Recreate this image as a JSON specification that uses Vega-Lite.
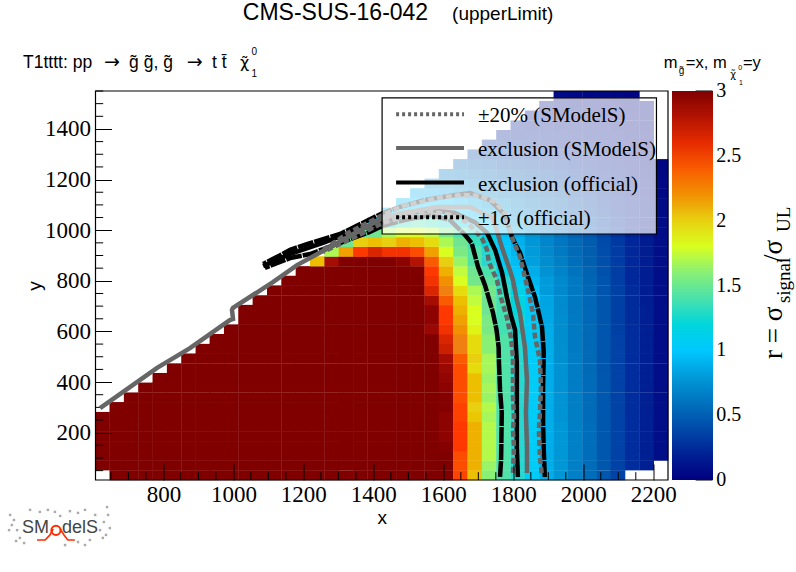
{"$schema":"https://vega.github.io/schema/vega-lite/v6.json","width":572.5,"height":389,"autosize":{"type":"none"},"padding":{"left":95.5,"top":91,"right":128,"bottom":92},"background":"white","config":{"view":{"stroke":null}},
"layer":[
{"data":{"values":[
{"x":626,"y":71,"r":3},{"x":626,"y":109,"r":3},{"x":626,"y":147,"r":3},{"x":626,"y":186,"r":3},{"x":626,"y":224,"r":3},{"x":626,"y":262,"r":3},
{"x":667,"y":32,"r":3},{"x":667,"y":71,"r":3},{"x":667,"y":109,"r":3},{"x":667,"y":147,"r":3},{"x":667,"y":186,"r":3},{"x":667,"y":224,"r":3},{"x":667,"y":262,"r":3},{"x":667,"y":301,"r":3},
{"x":708,"y":32,"r":3},{"x":708,"y":71,"r":3},{"x":708,"y":109,"r":3},{"x":708,"y":147,"r":3},{"x":708,"y":186,"r":3},{"x":708,"y":224,"r":3},{"x":708,"y":262,"r":3},{"x":708,"y":301,"r":3},{"x":708,"y":339,"r":3},
{"x":749,"y":32,"r":3},{"x":749,"y":71,"r":3},{"x":749,"y":109,"r":3},{"x":749,"y":147,"r":3},{"x":749,"y":186,"r":3},{"x":749,"y":224,"r":3},{"x":749,"y":262,"r":3},{"x":749,"y":301,"r":3},{"x":749,"y":339,"r":3},{"x":749,"y":378,"r":3},
{"x":790,"y":32,"r":3},{"x":790,"y":71,"r":3},{"x":790,"y":109,"r":3},{"x":790,"y":147,"r":3},{"x":790,"y":186,"r":3},{"x":790,"y":224,"r":3},{"x":790,"y":262,"r":3},{"x":790,"y":301,"r":3},{"x":790,"y":339,"r":3},{"x":790,"y":378,"r":3},{"x":790,"y":416,"r":3},
{"x":831,"y":32,"r":3},{"x":831,"y":71,"r":3},{"x":831,"y":109,"r":3},{"x":831,"y":147,"r":3},{"x":831,"y":186,"r":3},{"x":831,"y":224,"r":3},{"x":831,"y":262,"r":3},{"x":831,"y":301,"r":3},{"x":831,"y":339,"r":3},{"x":831,"y":378,"r":3},{"x":831,"y":416,"r":3},{"x":831,"y":454,"r":3},
{"x":872,"y":32,"r":3},{"x":872,"y":71,"r":3},{"x":872,"y":109,"r":3},{"x":872,"y":147,"r":3},{"x":872,"y":186,"r":3},{"x":872,"y":224,"r":3},{"x":872,"y":262,"r":3},{"x":872,"y":301,"r":3},{"x":872,"y":339,"r":3},{"x":872,"y":378,"r":3},{"x":872,"y":416,"r":3},{"x":872,"y":454,"r":3},{"x":872,"y":493,"r":3},
{"x":913,"y":32,"r":3},{"x":913,"y":71,"r":3},{"x":913,"y":109,"r":3},{"x":913,"y":147,"r":3},{"x":913,"y":186,"r":3},{"x":913,"y":224,"r":3},{"x":913,"y":262,"r":3},{"x":913,"y":301,"r":3},{"x":913,"y":339,"r":3},{"x":913,"y":378,"r":3},{"x":913,"y":416,"r":3},{"x":913,"y":454,"r":3},{"x":913,"y":493,"r":3},{"x":913,"y":531,"r":3},
{"x":953,"y":32,"r":3},{"x":953,"y":71,"r":3},{"x":953,"y":109,"r":3},{"x":953,"y":147,"r":3},{"x":953,"y":186,"r":3},{"x":953,"y":224,"r":3},{"x":953,"y":262,"r":3},{"x":953,"y":301,"r":3},{"x":953,"y":339,"r":3},{"x":953,"y":378,"r":3},{"x":953,"y":416,"r":3},{"x":953,"y":454,"r":3},{"x":953,"y":493,"r":3},{"x":953,"y":531,"r":3},{"x":953,"y":570,"r":3},
{"x":994,"y":32,"r":3},{"x":994,"y":71,"r":3},{"x":994,"y":109,"r":3},{"x":994,"y":147,"r":3},{"x":994,"y":186,"r":3},{"x":994,"y":224,"r":3},{"x":994,"y":262,"r":3},{"x":994,"y":301,"r":3},{"x":994,"y":339,"r":3},{"x":994,"y":378,"r":3},{"x":994,"y":416,"r":3},{"x":994,"y":454,"r":3},{"x":994,"y":493,"r":3},{"x":994,"y":531,"r":3},{"x":994,"y":570,"r":3},{"x":994,"y":608,"r":3},
{"x":1035,"y":32,"r":3},{"x":1035,"y":71,"r":3},{"x":1035,"y":109,"r":3},{"x":1035,"y":147,"r":3},{"x":1035,"y":186,"r":3},{"x":1035,"y":224,"r":3},{"x":1035,"y":262,"r":3},{"x":1035,"y":301,"r":3},{"x":1035,"y":339,"r":3},{"x":1035,"y":378,"r":3},{"x":1035,"y":416,"r":3},{"x":1035,"y":454,"r":3},{"x":1035,"y":493,"r":3},{"x":1035,"y":531,"r":3},{"x":1035,"y":570,"r":3},{"x":1035,"y":608,"r":3},{"x":1035,"y":646,"r":3},{"x":1035,"y":685,"r":3},
{"x":1076,"y":32,"r":3},{"x":1076,"y":71,"r":3},{"x":1076,"y":109,"r":3},{"x":1076,"y":147,"r":3},{"x":1076,"y":186,"r":3},{"x":1076,"y":224,"r":3},{"x":1076,"y":262,"r":3},{"x":1076,"y":301,"r":3},{"x":1076,"y":339,"r":3},{"x":1076,"y":378,"r":3},{"x":1076,"y":416,"r":3},{"x":1076,"y":454,"r":3},{"x":1076,"y":493,"r":3},{"x":1076,"y":531,"r":3},{"x":1076,"y":570,"r":3},{"x":1076,"y":608,"r":3},{"x":1076,"y":646,"r":3},{"x":1076,"y":685,"r":3},{"x":1076,"y":723,"r":3},
{"x":1117,"y":32,"r":3},{"x":1117,"y":71,"r":3},{"x":1117,"y":109,"r":3},{"x":1117,"y":147,"r":3},{"x":1117,"y":186,"r":3},{"x":1117,"y":224,"r":3},{"x":1117,"y":262,"r":3},{"x":1117,"y":301,"r":3},{"x":1117,"y":339,"r":3},{"x":1117,"y":378,"r":3},{"x":1117,"y":416,"r":3},{"x":1117,"y":454,"r":3},{"x":1117,"y":493,"r":3},{"x":1117,"y":531,"r":3},{"x":1117,"y":570,"r":3},{"x":1117,"y":608,"r":3},{"x":1117,"y":646,"r":3},{"x":1117,"y":685,"r":3},{"x":1117,"y":723,"r":3},{"x":1117,"y":762,"r":3},
{"x":1158,"y":32,"r":3},{"x":1158,"y":71,"r":3},{"x":1158,"y":109,"r":3},{"x":1158,"y":147,"r":3},{"x":1158,"y":186,"r":3},{"x":1158,"y":224,"r":3},{"x":1158,"y":262,"r":3},{"x":1158,"y":301,"r":3},{"x":1158,"y":339,"r":3},{"x":1158,"y":378,"r":3},{"x":1158,"y":416,"r":3},{"x":1158,"y":454,"r":3},{"x":1158,"y":493,"r":3},{"x":1158,"y":531,"r":3},{"x":1158,"y":570,"r":3},{"x":1158,"y":608,"r":3},{"x":1158,"y":646,"r":3},{"x":1158,"y":685,"r":3},{"x":1158,"y":723,"r":3},{"x":1158,"y":762,"r":3},{"x":1158,"y":800,"r":3},
{"x":1199,"y":32,"r":3},{"x":1199,"y":71,"r":3},{"x":1199,"y":109,"r":3},{"x":1199,"y":147,"r":3},{"x":1199,"y":186,"r":3},{"x":1199,"y":224,"r":3},{"x":1199,"y":262,"r":3},{"x":1199,"y":301,"r":3},{"x":1199,"y":339,"r":3},{"x":1199,"y":378,"r":3},{"x":1199,"y":416,"r":3},{"x":1199,"y":454,"r":3},{"x":1199,"y":493,"r":3},{"x":1199,"y":531,"r":3},{"x":1199,"y":570,"r":3},{"x":1199,"y":608,"r":3},{"x":1199,"y":646,"r":3},{"x":1199,"y":685,"r":3},{"x":1199,"y":723,"r":3},{"x":1199,"y":762,"r":3},{"x":1199,"y":800,"r":3},{"x":1199,"y":838,"r":3},
{"x":1240,"y":32,"r":3},{"x":1240,"y":71,"r":3},{"x":1240,"y":109,"r":3},{"x":1240,"y":147,"r":3},{"x":1240,"y":186,"r":3},{"x":1240,"y":224,"r":3},{"x":1240,"y":262,"r":3},{"x":1240,"y":301,"r":3},{"x":1240,"y":339,"r":3},{"x":1240,"y":378,"r":3},{"x":1240,"y":416,"r":3},{"x":1240,"y":454,"r":3},{"x":1240,"y":493,"r":3},{"x":1240,"y":531,"r":3},{"x":1240,"y":570,"r":3},{"x":1240,"y":608,"r":3},{"x":1240,"y":646,"r":3},{"x":1240,"y":685,"r":3},{"x":1240,"y":723,"r":3},{"x":1240,"y":762,"r":3},{"x":1240,"y":800,"r":3},{"x":1240,"y":838,"r":3},{"x":1240,"y":877,"r":2.05},
{"x":1281,"y":32,"r":3},{"x":1281,"y":71,"r":3},{"x":1281,"y":109,"r":3},{"x":1281,"y":147,"r":3},{"x":1281,"y":186,"r":3},{"x":1281,"y":224,"r":3},{"x":1281,"y":262,"r":3},{"x":1281,"y":301,"r":3},{"x":1281,"y":339,"r":3},{"x":1281,"y":378,"r":3},{"x":1281,"y":416,"r":3},{"x":1281,"y":454,"r":3},{"x":1281,"y":493,"r":3},{"x":1281,"y":531,"r":3},{"x":1281,"y":570,"r":3},{"x":1281,"y":608,"r":3},{"x":1281,"y":646,"r":3},{"x":1281,"y":685,"r":3},{"x":1281,"y":723,"r":3},{"x":1281,"y":762,"r":3},{"x":1281,"y":800,"r":3},{"x":1281,"y":838,"r":3},{"x":1281,"y":877,"r":2.85},{"x":1281,"y":915,"r":1.7},
{"x":1322,"y":32,"r":3},{"x":1322,"y":71,"r":3},{"x":1322,"y":109,"r":3},{"x":1322,"y":147,"r":3},{"x":1322,"y":186,"r":3},{"x":1322,"y":224,"r":3},{"x":1322,"y":262,"r":3},{"x":1322,"y":301,"r":3},{"x":1322,"y":339,"r":3},{"x":1322,"y":378,"r":3},{"x":1322,"y":416,"r":3},{"x":1322,"y":454,"r":3},{"x":1322,"y":493,"r":3},{"x":1322,"y":531,"r":3},{"x":1322,"y":570,"r":3},{"x":1322,"y":608,"r":3},{"x":1322,"y":646,"r":3},{"x":1322,"y":685,"r":3},{"x":1322,"y":723,"r":3},{"x":1322,"y":762,"r":3},{"x":1322,"y":800,"r":3},{"x":1322,"y":838,"r":3},{"x":1322,"y":877,"r":3},{"x":1322,"y":915,"r":2.15},{"x":1322,"y":954,"r":1.5},
{"x":1363,"y":32,"r":3},{"x":1363,"y":71,"r":3},{"x":1363,"y":109,"r":3},{"x":1363,"y":147,"r":3},{"x":1363,"y":186,"r":3},{"x":1363,"y":224,"r":3},{"x":1363,"y":262,"r":3},{"x":1363,"y":301,"r":3},{"x":1363,"y":339,"r":3},{"x":1363,"y":378,"r":3},{"x":1363,"y":416,"r":3},{"x":1363,"y":454,"r":3},{"x":1363,"y":493,"r":3},{"x":1363,"y":531,"r":3},{"x":1363,"y":570,"r":3},{"x":1363,"y":608,"r":3},{"x":1363,"y":646,"r":3},{"x":1363,"y":685,"r":3},{"x":1363,"y":723,"r":3},{"x":1363,"y":762,"r":3},{"x":1363,"y":800,"r":3},{"x":1363,"y":838,"r":3},{"x":1363,"y":877,"r":3},{"x":1363,"y":915,"r":2.5},{"x":1363,"y":954,"r":2.0},{"x":1363,"y":992,"r":1.45},
{"x":1404,"y":32,"r":3},{"x":1404,"y":71,"r":3},{"x":1404,"y":109,"r":3},{"x":1404,"y":147,"r":3},{"x":1404,"y":186,"r":3},{"x":1404,"y":224,"r":3},{"x":1404,"y":262,"r":3},{"x":1404,"y":301,"r":3},{"x":1404,"y":339,"r":3},{"x":1404,"y":378,"r":3},{"x":1404,"y":416,"r":3},{"x":1404,"y":454,"r":3},{"x":1404,"y":493,"r":3},{"x":1404,"y":531,"r":3},{"x":1404,"y":570,"r":3},{"x":1404,"y":608,"r":3},{"x":1404,"y":646,"r":3},{"x":1404,"y":685,"r":3},{"x":1404,"y":723,"r":3},{"x":1404,"y":762,"r":3},{"x":1404,"y":800,"r":3},{"x":1404,"y":838,"r":3},{"x":1404,"y":877,"r":3},{"x":1404,"y":915,"r":2.65},{"x":1404,"y":954,"r":2.05},{"x":1404,"y":992,"r":1.5},{"x":1404,"y":1030,"r":1.0},
{"x":1445,"y":32,"r":3},{"x":1445,"y":71,"r":3},{"x":1445,"y":109,"r":3},{"x":1445,"y":147,"r":3},{"x":1445,"y":186,"r":3},{"x":1445,"y":224,"r":3},{"x":1445,"y":262,"r":3},{"x":1445,"y":301,"r":3},{"x":1445,"y":339,"r":3},{"x":1445,"y":378,"r":3},{"x":1445,"y":416,"r":3},{"x":1445,"y":454,"r":3},{"x":1445,"y":493,"r":3},{"x":1445,"y":531,"r":3},{"x":1445,"y":570,"r":3},{"x":1445,"y":608,"r":3},{"x":1445,"y":646,"r":3},{"x":1445,"y":685,"r":3},{"x":1445,"y":723,"r":3},{"x":1445,"y":762,"r":3},{"x":1445,"y":800,"r":3},{"x":1445,"y":838,"r":3},{"x":1445,"y":877,"r":3},{"x":1445,"y":915,"r":2.55},{"x":1445,"y":954,"r":2.0},{"x":1445,"y":992,"r":1.7},{"x":1445,"y":1030,"r":1.2},{"x":1445,"y":1069,"r":1.0},
{"x":1486,"y":32,"r":3},{"x":1486,"y":71,"r":3},{"x":1486,"y":109,"r":3},{"x":1486,"y":147,"r":3},{"x":1486,"y":186,"r":3},{"x":1486,"y":224,"r":3},{"x":1486,"y":262,"r":3},{"x":1486,"y":301,"r":3},{"x":1486,"y":339,"r":3},{"x":1486,"y":378,"r":3},{"x":1486,"y":416,"r":3},{"x":1486,"y":454,"r":3},{"x":1486,"y":493,"r":3},{"x":1486,"y":531,"r":3},{"x":1486,"y":570,"r":3},{"x":1486,"y":608,"r":3},{"x":1486,"y":646,"r":3},{"x":1486,"y":685,"r":3},{"x":1486,"y":723,"r":3},{"x":1486,"y":762,"r":3},{"x":1486,"y":800,"r":3},{"x":1486,"y":838,"r":3},{"x":1486,"y":877,"r":2.95},{"x":1486,"y":915,"r":2.55},{"x":1486,"y":954,"r":2.1},{"x":1486,"y":992,"r":1.8},{"x":1486,"y":1030,"r":1.35},{"x":1486,"y":1069,"r":1.1},{"x":1486,"y":1107,"r":0.95},
{"x":1526,"y":32,"r":3},{"x":1526,"y":71,"r":3},{"x":1526,"y":109,"r":3},{"x":1526,"y":147,"r":3},{"x":1526,"y":186,"r":3},{"x":1526,"y":224,"r":3},{"x":1526,"y":262,"r":3},{"x":1526,"y":301,"r":3},{"x":1526,"y":339,"r":3},{"x":1526,"y":378,"r":3},{"x":1526,"y":416,"r":3},{"x":1526,"y":454,"r":3},{"x":1526,"y":493,"r":3},{"x":1526,"y":531,"r":3},{"x":1526,"y":570,"r":3},{"x":1526,"y":608,"r":3},{"x":1526,"y":646,"r":3},{"x":1526,"y":685,"r":3},{"x":1526,"y":723,"r":3},{"x":1526,"y":762,"r":3},{"x":1526,"y":800,"r":3},{"x":1526,"y":838,"r":3},{"x":1526,"y":877,"r":2.8},{"x":1526,"y":915,"r":2.45},{"x":1526,"y":954,"r":2.05},{"x":1526,"y":992,"r":1.82},{"x":1526,"y":1030,"r":1.4},{"x":1526,"y":1069,"r":1.15},{"x":1526,"y":1107,"r":1.0},{"x":1526,"y":1146,"r":0.88},
{"x":1567,"y":32,"r":3},{"x":1567,"y":71,"r":3},{"x":1567,"y":109,"r":3},{"x":1567,"y":147,"r":3},{"x":1567,"y":186,"r":3},{"x":1567,"y":224,"r":3},{"x":1567,"y":262,"r":3},{"x":1567,"y":301,"r":3},{"x":1567,"y":339,"r":3},{"x":1567,"y":378,"r":3},{"x":1567,"y":416,"r":3},{"x":1567,"y":454,"r":3},{"x":1567,"y":493,"r":3},{"x":1567,"y":531,"r":3},{"x":1567,"y":570,"r":3},{"x":1567,"y":608,"r":2.9},{"x":1567,"y":646,"r":2.95},{"x":1567,"y":685,"r":2.95},{"x":1567,"y":723,"r":2.85},{"x":1567,"y":762,"r":2.65},{"x":1567,"y":800,"r":2.55},{"x":1567,"y":838,"r":2.5},{"x":1567,"y":877,"r":2.4},{"x":1567,"y":915,"r":2.15},{"x":1567,"y":954,"r":1.95},{"x":1567,"y":992,"r":1.75},{"x":1567,"y":1030,"r":1.35},{"x":1567,"y":1069,"r":1.12},{"x":1567,"y":1107,"r":1.0},{"x":1567,"y":1146,"r":0.88},{"x":1567,"y":1184,"r":0.75},
{"x":1608,"y":32,"r":3},{"x":1608,"y":71,"r":3},{"x":1608,"y":109,"r":3},{"x":1608,"y":147,"r":2.98},{"x":1608,"y":186,"r":2.95},{"x":1608,"y":224,"r":2.95},{"x":1608,"y":262,"r":2.95},{"x":1608,"y":301,"r":2.98},{"x":1608,"y":339,"r":2.98},{"x":1608,"y":378,"r":2.95},{"x":1608,"y":416,"r":2.93},{"x":1608,"y":454,"r":2.9},{"x":1608,"y":493,"r":2.85},{"x":1608,"y":531,"r":2.7},{"x":1608,"y":570,"r":2.65},{"x":1608,"y":608,"r":2.55},{"x":1608,"y":646,"r":2.5},{"x":1608,"y":685,"r":2.5},{"x":1608,"y":723,"r":2.4},{"x":1608,"y":762,"r":2.25},{"x":1608,"y":800,"r":2.2},{"x":1608,"y":838,"r":2.1},{"x":1608,"y":877,"r":2.0},{"x":1608,"y":915,"r":1.8},{"x":1608,"y":954,"r":1.7},{"x":1608,"y":992,"r":1.55},{"x":1608,"y":1030,"r":1.25},{"x":1608,"y":1069,"r":1.05},{"x":1608,"y":1107,"r":0.97},{"x":1608,"y":1146,"r":0.85},{"x":1608,"y":1184,"r":0.75},{"x":1608,"y":1222,"r":0.65},
{"x":1649,"y":32,"r":2.47},{"x":1649,"y":71,"r":2.45},{"x":1649,"y":109,"r":2.45},{"x":1649,"y":147,"r":2.5},{"x":1649,"y":186,"r":2.5},{"x":1649,"y":224,"r":2.5},{"x":1649,"y":262,"r":2.48},{"x":1649,"y":301,"r":2.48},{"x":1649,"y":339,"r":2.45},{"x":1649,"y":378,"r":2.45},{"x":1649,"y":416,"r":2.45},{"x":1649,"y":454,"r":2.45},{"x":1649,"y":493,"r":2.4},{"x":1649,"y":531,"r":2.25},{"x":1649,"y":570,"r":2.25},{"x":1649,"y":608,"r":2.2},{"x":1649,"y":646,"r":2.15},{"x":1649,"y":685,"r":2.1},{"x":1649,"y":723,"r":2.05},{"x":1649,"y":762,"r":1.95},{"x":1649,"y":800,"r":1.8},{"x":1649,"y":838,"r":1.75},{"x":1649,"y":877,"r":1.65},{"x":1649,"y":915,"r":1.55},{"x":1649,"y":954,"r":1.5},{"x":1649,"y":992,"r":1.4},{"x":1649,"y":1030,"r":1.15},{"x":1649,"y":1069,"r":1.0},{"x":1649,"y":1107,"r":0.92},{"x":1649,"y":1146,"r":0.8},{"x":1649,"y":1184,"r":0.72},{"x":1649,"y":1222,"r":0.62},{"x":1649,"y":1261,"r":0.52},
{"x":1690,"y":32,"r":2.05},{"x":1690,"y":71,"r":2.1},{"x":1690,"y":109,"r":2.1},{"x":1690,"y":147,"r":2.1},{"x":1690,"y":186,"r":2.1},{"x":1690,"y":224,"r":2.1},{"x":1690,"y":262,"r":2.03},{"x":1690,"y":301,"r":2.0},{"x":1690,"y":339,"r":2.05},{"x":1690,"y":378,"r":2.05},{"x":1690,"y":416,"r":2.05},{"x":1690,"y":454,"r":1.95},{"x":1690,"y":493,"r":2.0},{"x":1690,"y":531,"r":1.95},{"x":1690,"y":570,"r":1.95},{"x":1690,"y":608,"r":1.85},{"x":1690,"y":646,"r":1.8},{"x":1690,"y":685,"r":1.8},{"x":1690,"y":723,"r":1.75},{"x":1690,"y":762,"r":1.7},{"x":1690,"y":800,"r":1.52},{"x":1690,"y":838,"r":1.5},{"x":1690,"y":877,"r":1.42},{"x":1690,"y":915,"r":1.42},{"x":1690,"y":954,"r":1.35},{"x":1690,"y":992,"r":1.25},{"x":1690,"y":1030,"r":1.05},{"x":1690,"y":1069,"r":0.95},{"x":1690,"y":1107,"r":0.86},{"x":1690,"y":1146,"r":0.75},{"x":1690,"y":1184,"r":0.68},{"x":1690,"y":1222,"r":0.58},{"x":1690,"y":1261,"r":0.48},{"x":1690,"y":1299,"r":0.4},
{"x":1731,"y":32,"r":1.6},{"x":1731,"y":71,"r":1.65},{"x":1731,"y":109,"r":1.72},{"x":1731,"y":147,"r":1.72},{"x":1731,"y":186,"r":1.72},{"x":1731,"y":224,"r":1.72},{"x":1731,"y":262,"r":1.68},{"x":1731,"y":301,"r":1.72},{"x":1731,"y":339,"r":1.65},{"x":1731,"y":378,"r":1.68},{"x":1731,"y":416,"r":1.65},{"x":1731,"y":454,"r":1.68},{"x":1731,"y":493,"r":1.68},{"x":1731,"y":531,"r":1.6},{"x":1731,"y":570,"r":1.6},{"x":1731,"y":608,"r":1.55},{"x":1731,"y":646,"r":1.55},{"x":1731,"y":685,"r":1.5},{"x":1731,"y":723,"r":1.5},{"x":1731,"y":762,"r":1.52},{"x":1731,"y":800,"r":1.45},{"x":1731,"y":838,"r":1.4},{"x":1731,"y":877,"r":1.25},{"x":1731,"y":915,"r":1.25},{"x":1731,"y":954,"r":1.2},{"x":1731,"y":992,"r":1.1},{"x":1731,"y":1030,"r":0.98},{"x":1731,"y":1069,"r":0.88},{"x":1731,"y":1107,"r":0.8},{"x":1731,"y":1146,"r":0.7},{"x":1731,"y":1184,"r":0.62},{"x":1731,"y":1222,"r":0.54},{"x":1731,"y":1261,"r":0.44},{"x":1731,"y":1299,"r":0.36},{"x":1731,"y":1338,"r":0.3},
{"x":1772,"y":32,"r":1.42},{"x":1772,"y":71,"r":1.42},{"x":1772,"y":109,"r":1.42},{"x":1772,"y":147,"r":1.42},{"x":1772,"y":186,"r":1.42},{"x":1772,"y":224,"r":1.42},{"x":1772,"y":262,"r":1.42},{"x":1772,"y":301,"r":1.42},{"x":1772,"y":339,"r":1.42},{"x":1772,"y":378,"r":1.42},{"x":1772,"y":416,"r":1.42},{"x":1772,"y":454,"r":1.42},{"x":1772,"y":493,"r":1.42},{"x":1772,"y":531,"r":1.42},{"x":1772,"y":570,"r":1.42},{"x":1772,"y":608,"r":1.38},{"x":1772,"y":646,"r":1.38},{"x":1772,"y":685,"r":1.38},{"x":1772,"y":723,"r":1.38},{"x":1772,"y":762,"r":1.32},{"x":1772,"y":800,"r":1.25},{"x":1772,"y":838,"r":1.15},{"x":1772,"y":877,"r":1.05},{"x":1772,"y":915,"r":1.02},{"x":1772,"y":954,"r":1.0},{"x":1772,"y":992,"r":0.95},{"x":1772,"y":1030,"r":0.88},{"x":1772,"y":1069,"r":0.8},{"x":1772,"y":1107,"r":0.74},{"x":1772,"y":1146,"r":0.65},{"x":1772,"y":1184,"r":0.58},{"x":1772,"y":1222,"r":0.5},{"x":1772,"y":1261,"r":0.42},{"x":1772,"y":1299,"r":0.34},{"x":1772,"y":1338,"r":0.28},{"x":1772,"y":1376,"r":0.22},
{"x":1813,"y":32,"r":1.25},{"x":1813,"y":71,"r":1.25},{"x":1813,"y":109,"r":1.25},{"x":1813,"y":147,"r":1.25},{"x":1813,"y":186,"r":1.25},{"x":1813,"y":224,"r":1.25},{"x":1813,"y":262,"r":1.25},{"x":1813,"y":301,"r":1.25},{"x":1813,"y":339,"r":1.25},{"x":1813,"y":378,"r":1.25},{"x":1813,"y":416,"r":1.25},{"x":1813,"y":454,"r":1.25},{"x":1813,"y":493,"r":1.25},{"x":1813,"y":531,"r":1.25},{"x":1813,"y":570,"r":1.25},{"x":1813,"y":608,"r":1.22},{"x":1813,"y":646,"r":1.22},{"x":1813,"y":685,"r":1.2},{"x":1813,"y":723,"r":1.18},{"x":1813,"y":762,"r":1.12},{"x":1813,"y":800,"r":1.05},{"x":1813,"y":838,"r":1.0},{"x":1813,"y":877,"r":0.95},{"x":1813,"y":915,"r":0.92},{"x":1813,"y":954,"r":0.9},{"x":1813,"y":992,"r":0.85},{"x":1813,"y":1030,"r":0.78},{"x":1813,"y":1069,"r":0.72},{"x":1813,"y":1107,"r":0.66},{"x":1813,"y":1146,"r":0.6},{"x":1813,"y":1184,"r":0.53},{"x":1813,"y":1222,"r":0.46},{"x":1813,"y":1261,"r":0.38},{"x":1813,"y":1299,"r":0.32},{"x":1813,"y":1338,"r":0.26},{"x":1813,"y":1376,"r":0.2},{"x":1813,"y":1414,"r":0.16},
{"x":1854,"y":32,"r":1.05},{"x":1854,"y":71,"r":1.05},{"x":1854,"y":109,"r":1.05},{"x":1854,"y":147,"r":1.05},{"x":1854,"y":186,"r":1.05},{"x":1854,"y":224,"r":1.05},{"x":1854,"y":262,"r":1.05},{"x":1854,"y":301,"r":1.05},{"x":1854,"y":339,"r":1.05},{"x":1854,"y":378,"r":1.05},{"x":1854,"y":416,"r":1.05},{"x":1854,"y":454,"r":1.05},{"x":1854,"y":493,"r":1.05},{"x":1854,"y":531,"r":1.05},{"x":1854,"y":570,"r":1.05},{"x":1854,"y":608,"r":1.05},{"x":1854,"y":646,"r":1.05},{"x":1854,"y":685,"r":1.02},{"x":1854,"y":723,"r":1.0},{"x":1854,"y":762,"r":0.97},{"x":1854,"y":800,"r":0.92},{"x":1854,"y":838,"r":0.88},{"x":1854,"y":877,"r":0.82},{"x":1854,"y":915,"r":0.8},{"x":1854,"y":954,"r":0.78},{"x":1854,"y":992,"r":0.75},{"x":1854,"y":1030,"r":0.7},{"x":1854,"y":1069,"r":0.65},{"x":1854,"y":1107,"r":0.6},{"x":1854,"y":1146,"r":0.55},{"x":1854,"y":1184,"r":0.48},{"x":1854,"y":1222,"r":0.42},{"x":1854,"y":1261,"r":0.35},{"x":1854,"y":1299,"r":0.29},{"x":1854,"y":1338,"r":0.24},{"x":1854,"y":1376,"r":0.19},{"x":1854,"y":1414,"r":0.15},{"x":1854,"y":1453,"r":0.12},
{"x":1895,"y":32,"r":0.88},{"x":1895,"y":71,"r":0.88},{"x":1895,"y":109,"r":0.88},{"x":1895,"y":147,"r":0.88},{"x":1895,"y":186,"r":0.88},{"x":1895,"y":224,"r":0.88},{"x":1895,"y":262,"r":0.88},{"x":1895,"y":301,"r":0.88},{"x":1895,"y":339,"r":0.88},{"x":1895,"y":378,"r":0.88},{"x":1895,"y":416,"r":0.88},{"x":1895,"y":454,"r":0.88},{"x":1895,"y":493,"r":0.88},{"x":1895,"y":531,"r":0.88},{"x":1895,"y":570,"r":0.88},{"x":1895,"y":608,"r":0.88},{"x":1895,"y":646,"r":0.86},{"x":1895,"y":685,"r":0.85},{"x":1895,"y":723,"r":0.84},{"x":1895,"y":762,"r":0.8},{"x":1895,"y":800,"r":0.8},{"x":1895,"y":838,"r":0.76},{"x":1895,"y":877,"r":0.74},{"x":1895,"y":915,"r":0.72},{"x":1895,"y":954,"r":0.7},{"x":1895,"y":992,"r":0.66},{"x":1895,"y":1030,"r":0.62},{"x":1895,"y":1069,"r":0.58},{"x":1895,"y":1107,"r":0.54},{"x":1895,"y":1146,"r":0.5},{"x":1895,"y":1184,"r":0.44},{"x":1895,"y":1222,"r":0.38},{"x":1895,"y":1261,"r":0.32},{"x":1895,"y":1299,"r":0.27},{"x":1895,"y":1338,"r":0.22},{"x":1895,"y":1376,"r":0.18},{"x":1895,"y":1414,"r":0.14},{"x":1895,"y":1453,"r":0.11},{"x":1895,"y":1491,"r":0.09},
{"x":1936,"y":32,"r":0.78},{"x":1936,"y":71,"r":0.78},{"x":1936,"y":109,"r":0.78},{"x":1936,"y":147,"r":0.78},{"x":1936,"y":186,"r":0.78},{"x":1936,"y":224,"r":0.78},{"x":1936,"y":262,"r":0.77},{"x":1936,"y":301,"r":0.77},{"x":1936,"y":339,"r":0.77},{"x":1936,"y":378,"r":0.76},{"x":1936,"y":416,"r":0.76},{"x":1936,"y":454,"r":0.76},{"x":1936,"y":493,"r":0.75},{"x":1936,"y":531,"r":0.75},{"x":1936,"y":570,"r":0.74},{"x":1936,"y":608,"r":0.74},{"x":1936,"y":646,"r":0.74},{"x":1936,"y":685,"r":0.73},{"x":1936,"y":723,"r":0.73},{"x":1936,"y":762,"r":0.72},{"x":1936,"y":800,"r":0.72},{"x":1936,"y":838,"r":0.68},{"x":1936,"y":877,"r":0.66},{"x":1936,"y":915,"r":0.64},{"x":1936,"y":954,"r":0.62},{"x":1936,"y":992,"r":0.58},{"x":1936,"y":1030,"r":0.55},{"x":1936,"y":1069,"r":0.51},{"x":1936,"y":1107,"r":0.48},{"x":1936,"y":1146,"r":0.44},{"x":1936,"y":1184,"r":0.39},{"x":1936,"y":1222,"r":0.34},{"x":1936,"y":1261,"r":0.29},{"x":1936,"y":1299,"r":0.24},{"x":1936,"y":1338,"r":0.2},{"x":1936,"y":1376,"r":0.16},{"x":1936,"y":1414,"r":0.13},{"x":1936,"y":1453,"r":0.1},{"x":1936,"y":1491,"r":0.08},{"x":1936,"y":1530,"r":0.06},
{"x":1977,"y":32,"r":0.67},{"x":1977,"y":71,"r":0.67},{"x":1977,"y":109,"r":0.67},{"x":1977,"y":147,"r":0.67},{"x":1977,"y":186,"r":0.67},{"x":1977,"y":224,"r":0.67},{"x":1977,"y":262,"r":0.66},{"x":1977,"y":301,"r":0.66},{"x":1977,"y":339,"r":0.66},{"x":1977,"y":378,"r":0.65},{"x":1977,"y":416,"r":0.65},{"x":1977,"y":454,"r":0.65},{"x":1977,"y":493,"r":0.65},{"x":1977,"y":531,"r":0.64},{"x":1977,"y":570,"r":0.64},{"x":1977,"y":608,"r":0.64},{"x":1977,"y":646,"r":0.64},{"x":1977,"y":685,"r":0.63},{"x":1977,"y":723,"r":0.63},{"x":1977,"y":762,"r":0.63},{"x":1977,"y":800,"r":0.63},{"x":1977,"y":838,"r":0.6},{"x":1977,"y":877,"r":0.58},{"x":1977,"y":915,"r":0.56},{"x":1977,"y":954,"r":0.55},{"x":1977,"y":992,"r":0.5},{"x":1977,"y":1030,"r":0.48},{"x":1977,"y":1069,"r":0.45},{"x":1977,"y":1107,"r":0.42},{"x":1977,"y":1146,"r":0.38},{"x":1977,"y":1184,"r":0.34},{"x":1977,"y":1222,"r":0.3},{"x":1977,"y":1261,"r":0.26},{"x":1977,"y":1299,"r":0.22},{"x":1977,"y":1338,"r":0.18},{"x":1977,"y":1376,"r":0.14},{"x":1977,"y":1414,"r":0.12},{"x":1977,"y":1453,"r":0.09},{"x":1977,"y":1491,"r":0.07},{"x":1977,"y":1530,"r":0.05},
{"x":2018,"y":32,"r":0.57},{"x":2018,"y":71,"r":0.57},{"x":2018,"y":109,"r":0.57},{"x":2018,"y":147,"r":0.57},{"x":2018,"y":186,"r":0.57},{"x":2018,"y":224,"r":0.57},{"x":2018,"y":262,"r":0.56},{"x":2018,"y":301,"r":0.56},{"x":2018,"y":339,"r":0.56},{"x":2018,"y":378,"r":0.56},{"x":2018,"y":416,"r":0.56},{"x":2018,"y":454,"r":0.55},{"x":2018,"y":493,"r":0.55},{"x":2018,"y":531,"r":0.55},{"x":2018,"y":570,"r":0.55},{"x":2018,"y":608,"r":0.55},{"x":2018,"y":646,"r":0.54},{"x":2018,"y":685,"r":0.54},{"x":2018,"y":723,"r":0.54},{"x":2018,"y":762,"r":0.54},{"x":2018,"y":800,"r":0.53},{"x":2018,"y":838,"r":0.52},{"x":2018,"y":877,"r":0.5},{"x":2018,"y":915,"r":0.49},{"x":2018,"y":954,"r":0.48},{"x":2018,"y":992,"r":0.44},{"x":2018,"y":1030,"r":0.42},{"x":2018,"y":1069,"r":0.39},{"x":2018,"y":1107,"r":0.36},{"x":2018,"y":1146,"r":0.33},{"x":2018,"y":1184,"r":0.3},{"x":2018,"y":1222,"r":0.26},{"x":2018,"y":1261,"r":0.22},{"x":2018,"y":1299,"r":0.19},{"x":2018,"y":1338,"r":0.16},{"x":2018,"y":1376,"r":0.13},{"x":2018,"y":1414,"r":0.1},{"x":2018,"y":1453,"r":0.08},{"x":2018,"y":1491,"r":0.06},{"x":2018,"y":1530,"r":0.04},
{"x":2059,"y":32,"r":0.46},{"x":2059,"y":71,"r":0.46},{"x":2059,"y":109,"r":0.46},{"x":2059,"y":147,"r":0.46},{"x":2059,"y":186,"r":0.46},{"x":2059,"y":224,"r":0.46},{"x":2059,"y":262,"r":0.46},{"x":2059,"y":301,"r":0.46},{"x":2059,"y":339,"r":0.46},{"x":2059,"y":378,"r":0.46},{"x":2059,"y":416,"r":0.46},{"x":2059,"y":454,"r":0.45},{"x":2059,"y":493,"r":0.45},{"x":2059,"y":531,"r":0.45},{"x":2059,"y":570,"r":0.45},{"x":2059,"y":608,"r":0.45},{"x":2059,"y":646,"r":0.45},{"x":2059,"y":685,"r":0.45},{"x":2059,"y":723,"r":0.45},{"x":2059,"y":762,"r":0.44},{"x":2059,"y":800,"r":0.44},{"x":2059,"y":838,"r":0.43},{"x":2059,"y":877,"r":0.42},{"x":2059,"y":915,"r":0.41},{"x":2059,"y":954,"r":0.4},{"x":2059,"y":992,"r":0.36},{"x":2059,"y":1030,"r":0.34},{"x":2059,"y":1069,"r":0.32},{"x":2059,"y":1107,"r":0.3},{"x":2059,"y":1146,"r":0.27},{"x":2059,"y":1184,"r":0.24},{"x":2059,"y":1222,"r":0.21},{"x":2059,"y":1261,"r":0.18},{"x":2059,"y":1299,"r":0.16},{"x":2059,"y":1338,"r":0.13},{"x":2059,"y":1376,"r":0.11},{"x":2059,"y":1414,"r":0.09},{"x":2059,"y":1453,"r":0.07},{"x":2059,"y":1491,"r":0.05},{"x":2059,"y":1530,"r":0.04},
{"x":2099,"y":32,"r":0.36},{"x":2099,"y":71,"r":0.36},{"x":2099,"y":109,"r":0.36},{"x":2099,"y":147,"r":0.36},{"x":2099,"y":186,"r":0.36},{"x":2099,"y":224,"r":0.36},{"x":2099,"y":262,"r":0.36},{"x":2099,"y":301,"r":0.36},{"x":2099,"y":339,"r":0.36},{"x":2099,"y":378,"r":0.36},{"x":2099,"y":416,"r":0.36},{"x":2099,"y":454,"r":0.36},{"x":2099,"y":493,"r":0.36},{"x":2099,"y":531,"r":0.36},{"x":2099,"y":570,"r":0.36},{"x":2099,"y":608,"r":0.35},{"x":2099,"y":646,"r":0.35},{"x":2099,"y":685,"r":0.35},{"x":2099,"y":723,"r":0.35},{"x":2099,"y":762,"r":0.35},{"x":2099,"y":800,"r":0.34},{"x":2099,"y":838,"r":0.34},{"x":2099,"y":877,"r":0.33},{"x":2099,"y":915,"r":0.33},{"x":2099,"y":954,"r":0.32},{"x":2099,"y":992,"r":0.28},{"x":2099,"y":1030,"r":0.27},{"x":2099,"y":1069,"r":0.25},{"x":2099,"y":1107,"r":0.23},{"x":2099,"y":1146,"r":0.21},{"x":2099,"y":1184,"r":0.19},{"x":2099,"y":1222,"r":0.17},{"x":2099,"y":1261,"r":0.14},{"x":2099,"y":1299,"r":0.12},{"x":2099,"y":1338,"r":0.1},{"x":2099,"y":1376,"r":0.09},{"x":2099,"y":1414,"r":0.07},{"x":2099,"y":1453,"r":0.06},{"x":2099,"y":1491,"r":0.04},{"x":2099,"y":1530,"r":0.03},
{"x":2140,"y":71,"r":0.27},{"x":2140,"y":109,"r":0.27},{"x":2140,"y":147,"r":0.27},{"x":2140,"y":186,"r":0.27},{"x":2140,"y":224,"r":0.27},{"x":2140,"y":262,"r":0.27},{"x":2140,"y":301,"r":0.27},{"x":2140,"y":339,"r":0.27},{"x":2140,"y":378,"r":0.27},{"x":2140,"y":416,"r":0.27},{"x":2140,"y":454,"r":0.27},{"x":2140,"y":493,"r":0.27},{"x":2140,"y":531,"r":0.27},{"x":2140,"y":570,"r":0.27},{"x":2140,"y":608,"r":0.27},{"x":2140,"y":646,"r":0.26},{"x":2140,"y":685,"r":0.26},{"x":2140,"y":723,"r":0.26},{"x":2140,"y":762,"r":0.26},{"x":2140,"y":800,"r":0.25},{"x":2140,"y":838,"r":0.25},{"x":2140,"y":877,"r":0.25},{"x":2140,"y":915,"r":0.25},{"x":2140,"y":954,"r":0.24},{"x":2140,"y":992,"r":0.2},{"x":2140,"y":1030,"r":0.2},{"x":2140,"y":1069,"r":0.18},{"x":2140,"y":1107,"r":0.17},{"x":2140,"y":1146,"r":0.15},{"x":2140,"y":1184,"r":0.14},{"x":2140,"y":1222,"r":0.12},{"x":2140,"y":1261,"r":0.1},{"x":2140,"y":1299,"r":0.09},{"x":2140,"y":1338,"r":0.08},{"x":2140,"y":1376,"r":0.07},{"x":2140,"y":1414,"r":0.05},{"x":2140,"y":1453,"r":0.04},{"x":2140,"y":1491,"r":0.03},{"x":2140,"y":1530,"r":0.02},
{"x":2181,"y":71,"r":0.18},{"x":2181,"y":109,"r":0.18},{"x":2181,"y":147,"r":0.18},{"x":2181,"y":186,"r":0.18},{"x":2181,"y":224,"r":0.18},{"x":2181,"y":262,"r":0.18},{"x":2181,"y":301,"r":0.18},{"x":2181,"y":339,"r":0.18},{"x":2181,"y":378,"r":0.18},{"x":2181,"y":416,"r":0.18},{"x":2181,"y":454,"r":0.18},{"x":2181,"y":493,"r":0.18},{"x":2181,"y":531,"r":0.18},{"x":2181,"y":570,"r":0.18},{"x":2181,"y":608,"r":0.18},{"x":2181,"y":646,"r":0.18},{"x":2181,"y":685,"r":0.18},{"x":2181,"y":723,"r":0.17},{"x":2181,"y":762,"r":0.17},{"x":2181,"y":800,"r":0.17},{"x":2181,"y":838,"r":0.17},{"x":2181,"y":877,"r":0.17},{"x":2181,"y":915,"r":0.17},{"x":2181,"y":954,"r":0.16},{"x":2181,"y":992,"r":0.13},{"x":2181,"y":1030,"r":0.13},{"x":2181,"y":1069,"r":0.12},{"x":2181,"y":1107,"r":0.11},{"x":2181,"y":1146,"r":0.1},{"x":2181,"y":1184,"r":0.09},{"x":2181,"y":1222,"r":0.08},{"x":2181,"y":1261,"r":0.07},{"x":2181,"y":1299,"r":0.06},{"x":2181,"y":1338,"r":0.05},{"x":2181,"y":1376,"r":0.04},{"x":2181,"y":1414,"r":0.03},{"x":2181,"y":1453,"r":0.03},{"x":2181,"y":1491,"r":0.02},
{"x":2222,"y":109,"r":0.08},{"x":2222,"y":147,"r":0.08},{"x":2222,"y":186,"r":0.08},{"x":2222,"y":224,"r":0.08},{"x":2222,"y":262,"r":0.08},{"x":2222,"y":301,"r":0.08},{"x":2222,"y":339,"r":0.08},{"x":2222,"y":378,"r":0.08},{"x":2222,"y":416,"r":0.08},{"x":2222,"y":454,"r":0.08},{"x":2222,"y":493,"r":0.08},{"x":2222,"y":531,"r":0.08},{"x":2222,"y":570,"r":0.08},{"x":2222,"y":608,"r":0.08},{"x":2222,"y":646,"r":0.08},{"x":2222,"y":685,"r":0.08},{"x":2222,"y":723,"r":0.08},{"x":2222,"y":762,"r":0.08},{"x":2222,"y":800,"r":0.08},{"x":2222,"y":838,"r":0.08},{"x":2222,"y":877,"r":0.08},{"x":2222,"y":915,"r":0.08},{"x":2222,"y":954,"r":0.08},{"x":2222,"y":992,"r":0.07},{"x":2222,"y":1030,"r":0.07},{"x":2222,"y":1069,"r":0.06},{"x":2222,"y":1107,"r":0.06},{"x":2222,"y":1146,"r":0.05},{"x":2222,"y":1184,"r":0.05},{"x":2222,"y":1222,"r":0.04},{"x":2222,"y":1261,"r":0.03}
]},
"mark":{"type":"rect","width":14.7,"height":10.1},
"encoding":{
"x":{"field":"x","type":"quantitative","scale":{"domain":[606,2242],"nice":false,"zero":false},"axis":{"title":"x","values":[800,1000,1200,1400,1600,1800,2000,2200],"format":"d","grid":false,"domain":false,"tickSize":-16,"tickColor":"black","tickWidth":1,"zindex":1,"labelFont":"Liberation Serif","labelFontSize":23,"labelColor":"black","labelPadding":19,"labelFlush":false,"titleFont":"Liberation Sans","titleFontWeight":"normal","titleFontSize":19,"titleColor":"black","titlePadding":2}},
"y":{"field":"y","type":"quantitative","scale":{"domain":[13,1550],"nice":false,"zero":false},"axis":{"title":"y","values":[200,400,600,800,1000,1200,1400],"format":"d","grid":false,"domain":false,"tickSize":-16,"tickColor":"black","tickWidth":1,"zindex":1,"labelFont":"Liberation Serif","labelFontSize":23,"labelColor":"black","labelPadding":21,"titleFont":"Liberation Sans","titleFontWeight":"normal","titleFontSize":19,"titleColor":"black","titlePadding":0}},
"color":{"field":"r","type":"quantitative","scale":{"domain":[0,0.25,0.5,0.75,1,1.25,1.5,1.8,2,2.25,2.5,2.75,3],"range":["#00007f","#00289a","#0060b0","#0090d0","#00c8ff","#28d8d0","#70e490","#d8ff20","#e8d010","#f08010","#ff3800","#c01800","#800000"],"clamp":true},"legend":{"orient":"none","legendX":576.5,"legendY":0,"title":null,"direction":"vertical","gradientLength":389,"gradientThickness":41,"gradientStrokeWidth":0,"values":[0,3],"labelExpr":"''"}}
}},
{"data":{"values":[{"x":650},{"x":700},{"x":750},{"x":850},{"x":900},{"x":950},{"x":1050},{"x":1100},{"x":1150},{"x":1250},{"x":1300},{"x":1350},{"x":1450},{"x":1500},{"x":1550},{"x":1650},{"x":1700},{"x":1750},{"x":1850},{"x":1900},{"x":1950},{"x":2050},{"x":2100},{"x":2150}]},"mark":{"type":"rule","color":"black","strokeWidth":1},"encoding":{"x":{"field":"x","type":"quantitative"},"y":{"datum":13},"y2":{"datum":44}}},
{"data":{"values":[{"y":50},{"y":100},{"y":150},{"y":250},{"y":300},{"y":350},{"y":450},{"y":500},{"y":550},{"y":650},{"y":700},{"y":750},{"y":850},{"y":900},{"y":950},{"y":1050},{"y":1100},{"y":1150},{"y":1250},{"y":1300},{"y":1350},{"y":1450},{"y":1500},{"y":1550}]},"mark":{"type":"rule","color":"black","strokeWidth":1},"encoding":{"y":{"field":"y","type":"quantitative"},"x":{"datum":606},"x2":{"datum":628}}},
{"data":{"name":"contours","values":[
{"line":"minus","i":0,"x":1762,"y":25},{"line":"minus","i":1,"x":1765,"y":92},{"line":"minus","i":2,"x":1767,"y":278},{"line":"minus","i":3,"x":1762,"y":369},{"line":"minus","i":4,"x":1759,"y":475},{"line":"minus","i":5,"x":1758,"y":538},{"line":"minus","i":6,"x":1752,"y":606},{"line":"minus","i":7,"x":1742,"y":673},{"line":"minus","i":8,"x":1733,"y":716},{"line":"minus","i":9,"x":1719,"y":783},{"line":"minus","i":10,"x":1699,"y":855},{"line":"minus","i":11,"x":1681,"y":949},{"line":"minus","i":12,"x":1662,"y":981},{"line":"minus","i":13,"x":1619,"y":1040},{"line":"minus","i":14,"x":1562,"y":1060},{"line":"minus","i":15,"x":1490,"y":1040},{"line":"minus","i":16,"x":1427,"y":1017},{"line":"minus","i":17,"x":1390,"y":993},{"line":"minus","i":18,"x":1296,"y":945},{"line":"minus","i":19,"x":1219,"y":906},{"line":"minus","i":20,"x":1162,"y":890},{"line":"minus","i":21,"x":1090,"y":851},
{"line":"plus","i":0,"x":1890,"y":25},{"line":"plus","i":1,"x":1887,"y":131},{"line":"plus","i":2,"x":1885,"y":238},{"line":"plus","i":3,"x":1885,"y":380},{"line":"plus","i":4,"x":1887,"y":515},{"line":"plus","i":5,"x":1882,"y":617},{"line":"plus","i":6,"x":1862,"y":736},{"line":"plus","i":7,"x":1842,"y":815},{"line":"plus","i":8,"x":1819,"y":910},{"line":"plus","i":9,"x":1796,"y":973},{"line":"plus","i":10,"x":1776,"y":1060},{"line":"plus","i":11,"x":1733,"y":1119},{"line":"plus","i":12,"x":1676,"y":1147},{"line":"plus","i":13,"x":1633,"y":1139},{"line":"plus","i":14,"x":1547,"y":1119},{"line":"plus","i":15,"x":1476,"y":1092},{"line":"plus","i":16,"x":1427,"y":1068},{"line":"plus","i":17,"x":1305,"y":985},{"line":"plus","i":18,"x":1210,"y":945},{"line":"plus","i":19,"x":1162,"y":922},{"line":"plus","i":20,"x":1085,"y":866},
{"line":"official","i":0,"x":1813,"y":25},{"line":"official","i":1,"x":1810,"y":143},{"line":"official","i":2,"x":1810,"y":341},{"line":"official","i":3,"x":1810,"y":475},{"line":"official","i":4,"x":1805,"y":606},{"line":"official","i":5,"x":1793,"y":665},{"line":"official","i":6,"x":1782,"y":732},{"line":"official","i":7,"x":1768,"y":831},{"line":"official","i":8,"x":1748,"y":922},{"line":"official","i":9,"x":1725,"y":989},{"line":"official","i":10,"x":1690,"y":1032},{"line":"official","i":11,"x":1633,"y":1068},{"line":"official","i":12,"x":1562,"y":1080},{"line":"official","i":13,"x":1490,"y":1064},{"line":"official","i":14,"x":1427,"y":1032},{"line":"official","i":15,"x":1353,"y":1000},{"line":"official","i":16,"x":1256,"y":950},{"line":"official","i":17,"x":1162,"y":906},{"line":"official","i":18,"x":1085,"y":858},
{"line":"smodels","i":0,"x":1839,"y":41},{"line":"smodels","i":1,"x":1839,"y":143},{"line":"smodels","i":2,"x":1836,"y":278},{"line":"smodels","i":3,"x":1839,"y":408},{"line":"smodels","i":4,"x":1833,"y":539},{"line":"smodels","i":5,"x":1819,"y":673},{"line":"smodels","i":6,"x":1810,"y":724},{"line":"smodels","i":7,"x":1799,"y":803},{"line":"smodels","i":8,"x":1790,"y":843},{"line":"smodels","i":9,"x":1767,"y":934},{"line":"smodels","i":10,"x":1742,"y":1048},{"line":"smodels","i":11,"x":1676,"y":1092},{"line":"smodels","i":12,"x":1582,"y":1092},{"line":"smodels","i":13,"x":1485,"y":1068},{"line":"smodels","i":14,"x":1427,"y":1048},{"line":"smodels","i":15,"x":1353,"y":993},{"line":"smodels","i":16,"x":1256,"y":918},{"line":"smodels","i":17,"x":1182,"y":862},{"line":"smodels","i":18,"x":1113,"y":795},{"line":"smodels","i":19,"x":1056,"y":744},{"line":"smodels","i":20,"x":999,"y":693},{"line":"smodels","i":21,"x":996,"y":685},{"line":"smodels","i":22,"x":999,"y":649},{"line":"smodels","i":23,"x":990,"y":645},{"line":"smodels","i":24,"x":876,"y":534},{"line":"smodels","i":25,"x":782,"y":456},{"line":"smodels","i":26,"x":685,"y":361},{"line":"smodels","i":27,"x":619,"y":297},
{"line":"low20","i":0,"x":1799,"y":41},{"line":"low20","i":1,"x":1802,"y":143},{"line":"low20","i":2,"x":1799,"y":211},{"line":"low20","i":3,"x":1802,"y":262},{"line":"low20","i":4,"x":1799,"y":341},{"line":"low20","i":5,"x":1799,"y":408},{"line":"low20","i":6,"x":1799,"y":499},{"line":"low20","i":7,"x":1793,"y":578},{"line":"low20","i":8,"x":1782,"y":653},{"line":"low20","i":9,"x":1765,"y":732},{"line":"low20","i":10,"x":1753,"y":803},{"line":"low20","i":11,"x":1730,"y":874},{"line":"low20","i":12,"x":1725,"y":922},{"line":"low20","i":13,"x":1710,"y":969},{"line":"low20","i":14,"x":1667,"y":1032},{"line":"low20","i":15,"x":1619,"y":1060},{"line":"low20","i":16,"x":1562,"y":1076},{"line":"low20","i":17,"x":1485,"y":1052},{"line":"low20","i":18,"x":1427,"y":1029},{"line":"low20","i":19,"x":1353,"y":977},{"line":"low20","i":20,"x":1256,"y":914},
{"line":"high20","i":0,"x":1881,"y":41},{"line":"high20","i":1,"x":1876,"y":103},{"line":"high20","i":2,"x":1873,"y":211},{"line":"high20","i":3,"x":1876,"y":278},{"line":"high20","i":4,"x":1879,"y":380},{"line":"high20","i":5,"x":1876,"y":487},{"line":"high20","i":6,"x":1862,"y":578},{"line":"high20","i":7,"x":1856,"y":673},{"line":"high20","i":8,"x":1842,"y":764},{"line":"high20","i":9,"x":1819,"y":894},{"line":"high20","i":10,"x":1799,"y":961},{"line":"high20","i":11,"x":1776,"y":1068},{"line":"high20","i":12,"x":1748,"y":1111},{"line":"high20","i":13,"x":1705,"y":1135},{"line":"high20","i":14,"x":1656,"y":1139},{"line":"high20","i":15,"x":1599,"y":1131},{"line":"high20","i":16,"x":1533,"y":1111},{"line":"high20","i":17,"x":1485,"y":1096},{"line":"high20","i":18,"x":1427,"y":1060},{"line":"high20","i":19,"x":1333,"y":993},{"line":"high20","i":20,"x":1256,"y":922}
]},"layer":[
{"transform":[{"filter":"datum.line==='minus'||datum.line==='plus'"}],"mark":{"type":"line","color":"black","strokeWidth":4.5,"strokeDash":[16,1],"clip":true},"encoding":{"x":{"field":"x","type":"quantitative"},"y":{"field":"y","type":"quantitative"},"detail":{"field":"line"},"order":{"field":"i"}}},
{"transform":[{"filter":"datum.line==='official'"}],"mark":{"type":"line","color":"black","strokeWidth":4.5,"clip":true},"encoding":{"x":{"field":"x","type":"quantitative"},"y":{"field":"y","type":"quantitative"},"order":{"field":"i"}}},
{"transform":[{"filter":"datum.line==='smodels'"}],"mark":{"type":"line","color":"#666666","strokeWidth":4.5,"clip":true},"encoding":{"x":{"field":"x","type":"quantitative"},"y":{"field":"y","type":"quantitative"},"order":{"field":"i"}}},
{"transform":[{"filter":"datum.line==='low20'||datum.line==='high20'"}],"mark":{"type":"line","color":"#666666","strokeWidth":4.5,"strokeDash":[6,3],"clip":true},"encoding":{"x":{"field":"x","type":"quantitative"},"y":{"field":"y","type":"quantitative"},"detail":{"field":"line"},"order":{"field":"i"}}}
]},
{"data":{"values":[{"x":1425,"x2":2209,"y":985,"y2":1523}]},"mark":{"type":"rect","fill":"white","fillOpacity":0.7,"stroke":"black","strokeWidth":1.2},"encoding":{"x":{"field":"x","type":"quantitative"},"x2":{"field":"x2"},"y":{"field":"y","type":"quantitative"},"y2":{"field":"y2"}}},
{"data":{"values":[{"x":1465,"x2":1659,"y":1458}]},"mark":{"type":"rule","color":"#666666","strokeWidth":4,"strokeDash":[3,3]},"encoding":{"x":{"field":"x","type":"quantitative"},"x2":{"field":"x2"},"y":{"field":"y","type":"quantitative"}}},
{"data":{"values":[{"x":1465,"x2":1659,"y":1325}]},"mark":{"type":"rule","color":"#666666","strokeWidth":4},"encoding":{"x":{"field":"x","type":"quantitative"},"x2":{"field":"x2"},"y":{"field":"y","type":"quantitative"}}},
{"data":{"values":[{"x":1465,"x2":1659,"y":1188}]},"mark":{"type":"rule","color":"black","strokeWidth":4},"encoding":{"x":{"field":"x","type":"quantitative"},"x2":{"field":"x2"},"y":{"field":"y","type":"quantitative"}}},
{"data":{"values":[{"x":1465,"x2":1659,"y":1051}]},"mark":{"type":"rule","color":"black","strokeWidth":4,"strokeDash":[3,3]},"encoding":{"x":{"field":"x","type":"quantitative"},"x2":{"field":"x2"},"y":{"field":"y","type":"quantitative"}}},
{"data":{"values":[{"t":"±20% (SModelS)","x":1699,"y":1450},{"t":"exclusion (SModelS)","x":1699,"y":1317},{"t":"exclusion (official)","x":1699,"y":1180},{"t":"±1σ (official)","x":1699,"y":1043}]},"mark":{"type":"text","align":"left","baseline":"middle","font":"Liberation Serif","fontSize":21,"color":"black"},"encoding":{"x":{"field":"x","type":"quantitative"},"y":{"field":"y","type":"quantitative"},"text":{"field":"t"}}},
{"data":{"values":[{"x":606,"x2":2242,"y":13,"y2":1550}]},"mark":{"type":"rect","fill":null,"stroke":"black","strokeWidth":1.2},"encoding":{"x":{"field":"x","type":"quantitative"},"x2":{"field":"x2"},"y":{"field":"y","type":"quantitative"},"y2":{"field":"y2"}}},
{"data":{"values":[{"t":"0","y":13},{"t":"0.5","y":269},{"t":"1","y":525},{"t":"1.5","y":781},{"t":"2","y":1038},{"t":"2.5","y":1294},{"t":"3","y":1550}]},"layer":[
{"mark":{"type":"rule","color":"black","strokeWidth":1},"encoding":{"x":{"datum":2321},"x2":{"datum":2369},"y":{"field":"y","type":"quantitative"}}},
{"mark":{"type":"text","align":"left","baseline":"middle","font":"Liberation Serif","fontSize":20,"color":"black"},"encoding":{"x":{"datum":2380},"y":{"field":"y","type":"quantitative"},"text":{"field":"t"}}}
]},
{"mark":{"type":"rule","color":"black","strokeWidth":1},"encoding":{"x":{"datum":2369},"y":{"datum":13},"y2":{"datum":1550}}},
{"data":{"values":[{"t":"r = σ","x":2567,"y":491}]},"mark":{"type":"text","align":"left","baseline":"alphabetic","angle":270,"font":"Liberation Serif","fontSize":27,"color":"black"},"encoding":{"x":{"field":"x","type":"quantitative"},"y":{"field":"y","type":"quantitative"},"text":{"field":"t"}}},
{"data":{"values":[{"t":"signal","x":2590,"y":712}]},"mark":{"type":"text","align":"left","baseline":"alphabetic","angle":270,"font":"Liberation Serif","fontSize":19,"color":"black"},"encoding":{"x":{"field":"x","type":"quantitative"},"y":{"field":"y","type":"quantitative"},"text":{"field":"t"}}},
{"data":{"values":[{"t":"/σ","x":2567,"y":874}]},"mark":{"type":"text","align":"left","baseline":"alphabetic","angle":270,"font":"Liberation Serif","fontSize":27,"color":"black"},"encoding":{"x":{"field":"x","type":"quantitative"},"y":{"field":"y","type":"quantitative"},"text":{"field":"t"}}},
{"data":{"values":[{"t":"UL","x":2590,"y":993}]},"mark":{"type":"text","align":"left","baseline":"alphabetic","angle":270,"font":"Liberation Serif","fontSize":19,"color":"black"},"encoding":{"x":{"field":"x","type":"quantitative"},"y":{"field":"y","type":"quantitative"},"text":{"field":"t"}}},
{"data":{"values":[{"t":"CMS-SUS-16-042","x":1027,"y":1832}]},"mark":{"type":"text","align":"left","baseline":"alphabetic","font":"Liberation Sans","fontSize":23,"color":"black"},"encoding":{"x":{"field":"x","type":"quantitative"},"y":{"field":"y","type":"quantitative"},"text":{"field":"t"}}},
{"data":{"values":[{"t":"(upperLimit)","x":1625,"y":1832}]},"mark":{"type":"text","align":"left","baseline":"alphabetic","font":"Liberation Sans","fontSize":19,"color":"black"},"encoding":{"x":{"field":"x","type":"quantitative"},"y":{"field":"y","type":"quantitative"},"text":{"field":"t"}}},
{"data":{"values":[{"t":"T1tttt: pp","x":399,"y":1641},{"t":"g̃ g̃, g̃","x":702,"y":1641},{"t":"t t̄","x":939,"y":1641}]},"mark":{"type":"text","align":"left","baseline":"alphabetic","font":"Liberation Sans","fontSize":17.5,"color":"black"},"encoding":{"x":{"field":"x","type":"quantitative"},"y":{"field":"y","type":"quantitative"},"text":{"field":"t"}}},
{"data":{"values":[{"t":"→","x":630,"y":1641},{"t":"→","x":867,"y":1641}]},"mark":{"type":"text","align":"left","baseline":"alphabetic","font":"DejaVu Sans","fontSize":19,"color":"black"},"encoding":{"x":{"field":"x","type":"quantitative"},"y":{"field":"y","type":"quantitative"},"text":{"field":"t"}}},
{"data":{"values":[{"t":"χ̃","x":1019,"y":1641}]},"mark":{"type":"text","align":"left","baseline":"alphabetic","font":"DejaVu Sans","fontSize":16,"color":"black"},"encoding":{"x":{"field":"x","type":"quantitative"},"y":{"field":"y","type":"quantitative"},"text":{"field":"t"}}},
{"data":{"values":[{"t":"m","x":2230,"y":1641},{"t":"=x, m","x":2293,"y":1641},{"t":"=y","x":2456,"y":1641}]},"mark":{"type":"text","align":"left","baseline":"alphabetic","font":"Liberation Sans","fontSize":16.5,"color":"black"},"encoding":{"x":{"field":"x","type":"quantitative"},"y":{"field":"y","type":"quantitative"},"text":{"field":"t"}}},
{"data":{"values":[{"t":"0","x":1052,"y":1692},{"t":"1","x":1052,"y":1605},{"t":"g̃","x":2273,"y":1617}]},"mark":{"type":"text","align":"left","baseline":"alphabetic","font":"Liberation Sans","fontSize":10,"color":"black"},"encoding":{"x":{"field":"x","type":"quantitative"},"y":{"field":"y","type":"quantitative"},"text":{"field":"t"}}},
{"data":{"values":[{"t":"χ̃","x":2420,"y":1601}]},"mark":{"type":"text","align":"left","baseline":"alphabetic","font":"DejaVu Sans","fontSize":10,"color":"black"},"encoding":{"x":{"field":"x","type":"quantitative"},"y":{"field":"y","type":"quantitative"},"text":{"field":"t"}}},
{"data":{"values":[{"t":"0","x":2443,"y":1633},{"t":"1","x":2445,"y":1574}]},"mark":{"type":"text","align":"left","baseline":"alphabetic","font":"Liberation Sans","fontSize":7,"color":"black"},"encoding":{"x":{"field":"x","type":"quantitative"},"y":{"field":"y","type":"quantitative"},"text":{"field":"t"}}},
{"data":{"values":[{"x":362,"y":-125},{"x":373,"y":-145},{"x":367,"y":-165},{"x":382,"y":-185},{"x":359,"y":-185},{"x":390,"y":-216},{"x":379,"y":-228},{"x":402,"y":-236},{"x":419,"y":-105},{"x":447,"y":-113},{"x":470,"y":-105},{"x":490,"y":-113},{"x":505,"y":-129},{"x":533,"y":-110},{"x":556,"y":-117},{"x":576,"y":-105},{"x":605,"y":-125},{"x":639,"y":-94},{"x":642,"y":-125},{"x":630,"y":-153},{"x":647,"y":-177},{"x":619,"y":-185},{"x":636,"y":-204},{"x":627,"y":-216},{"x":590,"y":-224},{"x":576,"y":-244},{"x":556,"y":-232},{"x":519,"y":-244}]},"mark":{"type":"point","shape":"square","filled":true,"size":6,"color":"#aaaaaa","opacity":1},"encoding":{"x":{"field":"x","type":"quantitative"},"y":{"field":"y","type":"quantitative"}}},
{"data":{"values":[{"t":"SM","x":396,"y":-196},{"t":"delS","x":510,"y":-196}]},"mark":{"type":"text","align":"left","baseline":"alphabetic","font":"Liberation Sans","fontSize":18,"color":"#444444"},"encoding":{"x":{"field":"x","type":"quantitative"},"y":{"field":"y","type":"quantitative"},"text":{"field":"t"}}},
{"data":{"values":[{"p":"a","i":0,"x":439,"y":-224},{"p":"a","i":1,"x":462,"y":-224},{"p":"a","i":2,"x":476,"y":-204},{"p":"a","i":3,"x":485,"y":-180},{"p":"b","i":0,"x":505,"y":-180},{"p":"b","i":1,"x":516,"y":-204},{"p":"b","i":2,"x":527,"y":-224},{"p":"b","i":3,"x":547,"y":-224}]},"mark":{"type":"line","color":"#ff2a00","strokeWidth":1.6},"encoding":{"x":{"field":"x","type":"quantitative"},"y":{"field":"y","type":"quantitative"},"detail":{"field":"p"},"order":{"field":"i"}}},
{"data":{"values":[{"x":493,"y":-186}]},"mark":{"type":"point","shape":"circle","size":85,"filled":false,"color":"#ff2a00","strokeWidth":2,"opacity":1},"encoding":{"x":{"field":"x","type":"quantitative"},"y":{"field":"y","type":"quantitative"}}}
]}
